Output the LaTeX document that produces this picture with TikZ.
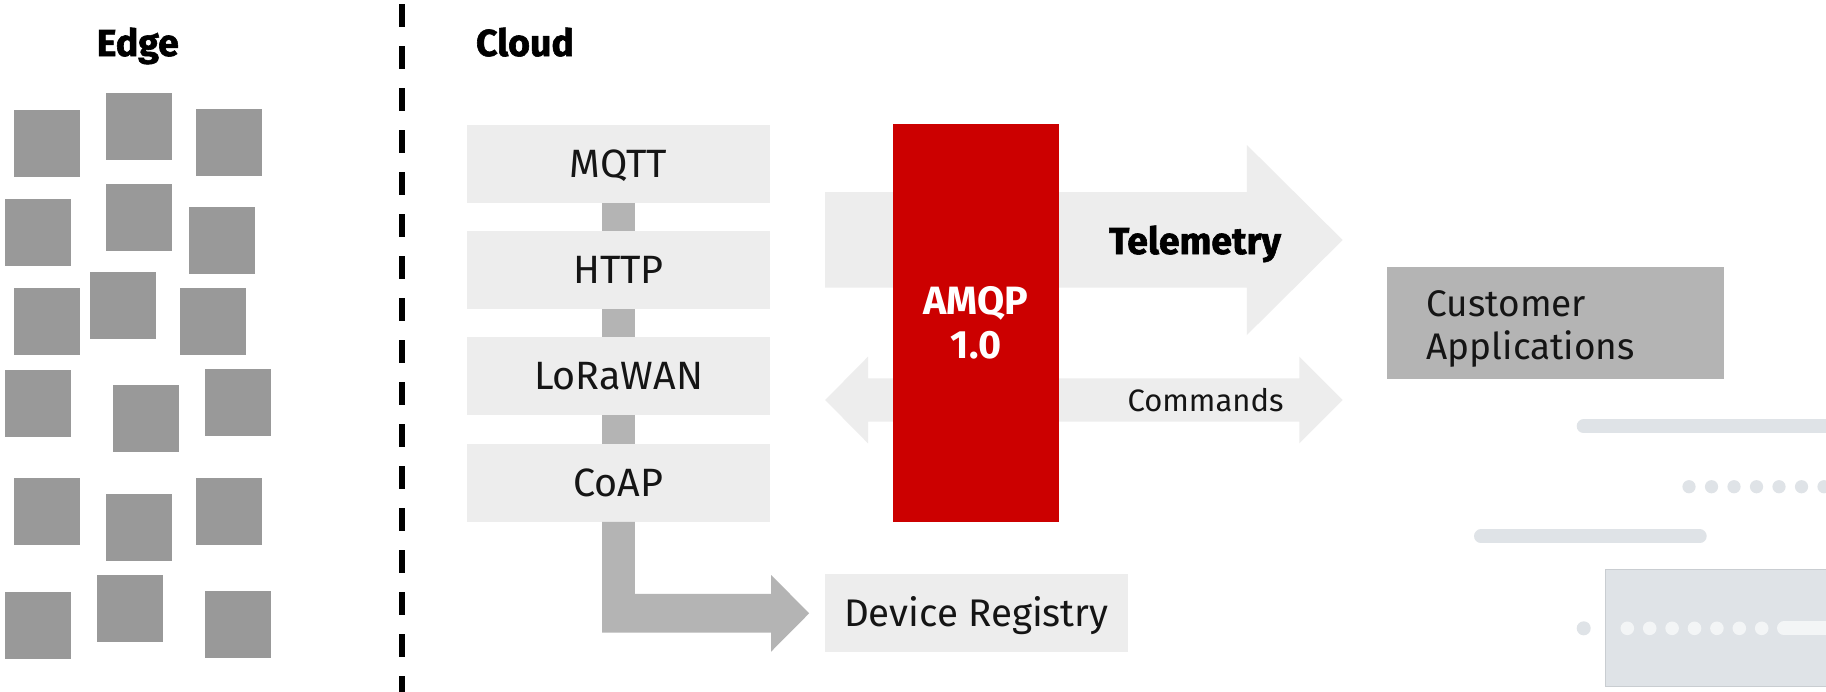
\documentclass[tikz,border=0pt]{standalone}
\usepackage{fontspec}
\setmainfont{Fira Sans}
\newfontfamily\heavyfont{Fira Sans}[BoldFeatures={FakeBold=1.6}]
\usetikzlibrary{calc}
\definecolor{sq}{HTML}{999999}
\definecolor{boxg}{HTML}{EDEDED}
\definecolor{conng}{HTML}{B4B4B4}
\definecolor{amqpred}{HTML}{CC0000}
\definecolor{deco}{HTML}{DFE3E7}
\definecolor{decolight}{HTML}{F3F5F6}
\definecolor{decoedge}{HTML}{C9CDD1}
\definecolor{ink}{HTML}{151515}
\begin{document}
\begin{tikzpicture}[x=1pt,y=-1pt,
  edgesq/.style={fill=sq, draw=none, minimum width=66pt, minimum height=67pt, inner sep=0pt, anchor=north west},
  proto/.style={fill=boxg, minimum width=303pt, minimum height=77.7pt, inner sep=0pt, text=ink, text height=27.4pt, text depth=0pt, font=\fontsize{39.5}{44}\selectfont},
  linkbar/.style={draw=conng, line width=32.6pt},
  heading/.style={anchor=base, text=black, inner sep=0pt, font=\fontsize{37.5}{44}\selectfont\heavyfont\bfseries},
  amqpbox/.style={fill=amqpred, minimum width=166pt, minimum height=397.7pt, inner sep=0pt, text=white, align=center, font=\fontsize{39.5}{43.5}\selectfont\bfseries},
  custbox/.style={fill=conng, minimum height=112.6pt, minimum width=337.3pt, inner sep=0pt},
  custtext/.style={text width=257.3pt, inner sep=0pt, align=left, text=ink, font=\fontsize{37}{43}\selectfont},
  regbox/.style={fill=boxg, minimum width=302.7pt, minimum height=77.7pt, inner sep=0pt, text=ink, text height=26.5pt, text depth=0pt, font=\fontsize{38.5}{44}\selectfont},
  band/.style={fill=boxg},
  decobar/.style={draw=deco, line width=14pt, line cap=round},
  decodot/.style={fill=deco},
  lightdot/.style={fill=decolight}
]
\useasboundingbox (0,0) rectangle (1826,691);
\fill[white] (0,0) rectangle (1826,691);

% headings and divider
\node[heading] (edge) at (137.8,56) {Edge};
\node[heading] (cloud) at (525,56) {Cloud};
\coordinate (divtop) at (401.8,4.4);
\coordinate (divbot) at (401.8,700);
\draw[line width=6pt, dash pattern=on 23pt off 19pt] (divtop) -- (divbot);

% edge devices
\foreach \x/\y [count=\i] in {14.2/110.2, 106/93, 196/108.9, 5/199.2, 106/184.2, 189/207.1,
  14.2/288.2, 90/271.9, 179.9/288.2, 5/370.2, 112.9/385.2, 205.1/368.9,
  14.2/478.2, 106/494, 196/478.2, 5/591.9, 96.8/575.1, 205.1/591}
  \node[edgesq] (dev\i) at (\x,\y) {};

% protocol adapters
\node[proto] (mqtt) at (618.5,163.8) {MQTT};
\node[proto] (http) at (618.5,270) {HTTP};
\node[proto] (lora) at (618.5,375.8) {LoRaWAN};
\node[proto] (coap) at (618.5,482.8) {CoAP};
\draw[linkbar] (mqtt.south) -- (http.north);
\draw[linkbar] (http.south) -- (lora.north);
\draw[linkbar] (lora.south) -- (coap.north);

% device registry and L arrow
\node[regbox] (devreg) at (976.3,612.8) {Device Registry};
\coordinate (regtip) at ($(devreg.west)+(-15.6,0.5)$);
\fill[conng] ([xshift=-16.3pt]coap.south) |- ($(regtip)+(-38,19.35)$) -- ($(regtip)+(-38,38.3)$) -- (regtip)
  -- ($(regtip)+(-38,-38.3)$) -- ($(regtip)+(-38,-19.35)$) -| ([xshift=16.3pt]coap.south) -- cycle;

% customer applications
\node[custbox] (cust) at (1555.3,323) {};
\node[custtext] (custlabel) at ($(cust.center)+(0,5.5)$) {Customer\\Applications};

% telemetry band
\coordinate (telstart) at (825,240);
\coordinate (teltip) at (1342.6,240);
\fill[band] ($(telstart)+(0,-48)$) -- ($(teltip)+(-95.7,-48)$) -- ($(teltip)+(-95.7,-95)$) -- (teltip)
  -- ($(teltip)+(-95.7,95)$) -- ($(teltip)+(-95.7,47.7)$) -- ($(telstart)+(0,47.7)$) -- cycle;
% commands band
\coordinate (cmdleft) at (825.2,400);
\coordinate (cmdright) at (1342.6,400);
\fill[band] (cmdleft) -- ($(cmdleft)+(42.8,-43.3)$) -- ($(cmdleft)+(42.8,-21.7)$) -- ($(cmdright)+(-43.3,-21.7)$)
  -- ($(cmdright)+(-43.3,-43.3)$) -- (cmdright) -- ($(cmdright)+(-43.3,43.3)$) -- ($(cmdright)+(-43.3,21.7)$)
  -- ($(cmdleft)+(42.8,21.7)$) -- ($(cmdleft)+(42.8,43.3)$) -- cycle;

% AMQP
\node[amqpbox] (amqp) at (976,322.8) {AMQP\\1.0};

\node[anchor=base, inner sep=0pt, text=black, font=\fontsize{37.5}{44}\selectfont\heavyfont\bfseries] (tel) at (1195,254) {Telemetry};
\node[anchor=base, inner sep=0pt, text=ink, font=\fontsize{31}{36}\selectfont] (cmd) at (1205.5,411.7) {Commands};

% decorative UI sketch
\draw[decobar] (1583.7,426.3) -- (1850,426.3);
\foreach \k in {0,...,6} \fill[decodot] (1689+22.5*\k,486.7) circle (6.6);
\draw[decobar] (1481,536.3) -- (1699.7,536.3);
\filldraw[fill=deco, draw=decoedge, line width=1pt] (1605,569.3) rectangle (1840,686.7);
\fill[decodot] (1583.7,628.3) circle (7);
\foreach \k in {0,...,6} \fill[lightdot] (1627.3+22.4*\k,628.3) circle (6.8);
\draw[draw=decolight, line width=14pt, line cap=round] (1784,628.3) -- (1850,628.3);
\end{tikzpicture}
\end{document}
